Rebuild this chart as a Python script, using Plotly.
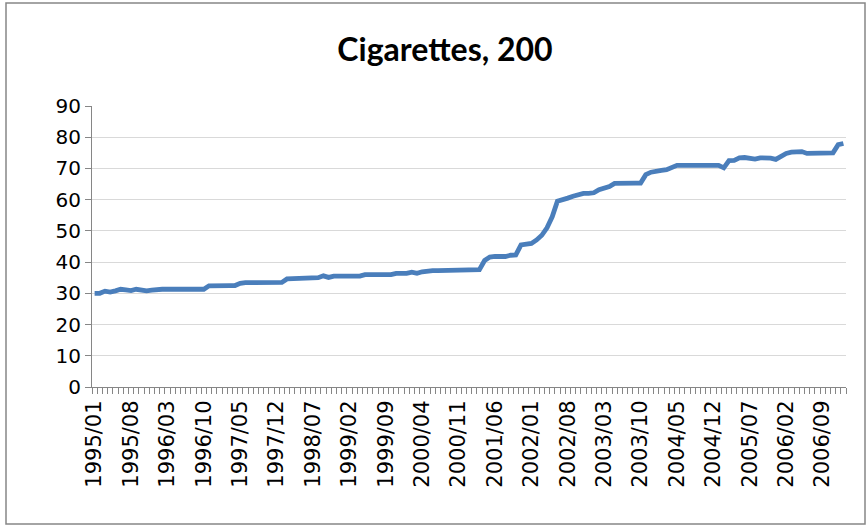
import plotly.graph_objects as go

# Monthly series, 1995/01 .. 2007/01
months = [f"{1995 + k // 12}/{k % 12 + 1:02d}" for k in range(145)]

prices = [
    30.0, 30.0, 30.7, 30.4, 30.8, 31.3, 31.1, 30.9, 31.3, 30.9,
    30.8, 31.0, 31.3, 31.3, 31.3, 31.3, 31.3, 31.3, 31.3, 31.3,
    31.3, 31.3, 32.4, 32.5, 32.5, 32.5, 32.5, 32.5, 33.2, 33.4,
    33.4, 33.4, 33.4, 33.4, 33.4, 33.4, 33.5, 34.6, 34.7, 34.8,
    35.0, 35.0, 35.0, 35.0, 35.6, 35.1, 35.5, 35.5, 35.5, 35.5,
    35.5, 35.5, 36.0, 36.0, 36.0, 36.0, 36.0, 36.0, 36.4, 36.4,
    36.4, 36.8, 36.4, 36.9, 37.2, 37.3, 37.3, 37.3, 37.3, 37.3,
    37.3, 37.6, 37.6, 37.6, 37.6, 40.5, 41.6, 41.8, 41.8, 41.8,
    42.2, 42.3, 45.5, 45.8, 46.0, 47.1, 48.6, 51.0, 54.5, 59.5,
    60.2, 60.5, 61.1, 61.7, 62.0, 62.0, 62.2, 63.2, 63.6, 64.2,
    65.2, 65.3, 65.3, 65.3, 65.3, 65.3, 68.0, 68.8, 69.2, 69.4,
    69.6, 70.4, 71.0, 71.0, 71.0, 71.0, 71.0, 71.0, 71.0, 71.0,
    71.0, 70.2, 72.5, 72.6, 73.4, 73.5, 73.4, 73.0, 73.4, 73.5,
    73.3, 72.9, 74.0, 74.8, 75.2, 75.3, 75.4, 74.8, 74.8, 74.8,
    74.9, 75.0, 75.0, 77.6, 78.0,
]

y_ticks = list(range(0, 100, 10))
label_step = 7

idx = list(range(len(months)))
label_pos = idx[::label_step]
label_text = months[::label_step]

W, H = 868, 527
L, R, T, B = 92, 22, 106, 140
pw = W - L - R
ph = H - T - B

axis_grey = "#868686"

fig = go.Figure()
fig.add_trace(go.Scatter(
    x=idx, y=prices, mode="lines",
    line=dict(color="#4a7ebb", width=4.8),
    hoverinfo="skip", showlegend=False,
))

fig.update_layout(
    width=W, height=H,
    margin=dict(l=L, r=R, t=T, b=B),
    paper_bgcolor="white", plot_bgcolor="white",
    title=dict(
        text="<b>Cigarettes, 200</b>",
        font=dict(family="Lato", size=32, color="black"),
        x=445 / W, xref="container", xanchor="center",
        y=1 - 50 / H, yref="container", yanchor="middle",
    ),
    xaxis=dict(
        range=[-0.5, len(months) - 0.5],
        tickmode="array", tickvals=label_pos, ticktext=label_text,
        tickangle=-90, ticks="",
        tickfont=dict(family="DejaVu Sans", size=21, color="black"),
        ticklabelstandoff=4,
        showgrid=False, zeroline=False,
        showline=True, linecolor=axis_grey, linewidth=1,
        minor=dict(
            tickmode="array",
            tickvals=[i - 0.5 for i in range(len(months) + 1)],
            ticks="outside", ticklen=6, tickcolor=axis_grey, tickwidth=1,
            showgrid=False,
        ),
    ),
    yaxis=dict(
        range=[0, 90], tickmode="array", tickvals=y_ticks,
        ticks="outside", ticklen=6, tickcolor=axis_grey,
        tickfont=dict(family="DejaVu Sans", size=20, color="black"),
        showgrid=True, gridcolor="#d9d9d9", gridwidth=1,
        zeroline=False,
        showline=True, linecolor=axis_grey, linewidth=1,
    ),
    shapes=[dict(
        type="rect", xref="paper", yref="paper",
        x0=(6 - L) / pw, x1=(865 - L) / pw,
        y0=(H - B - 524) / ph, y1=(H - B - 3) / ph,
        line=dict(color=axis_grey, width=1.5), layer="below",
    )],
)

fig.write_html("out.html")
